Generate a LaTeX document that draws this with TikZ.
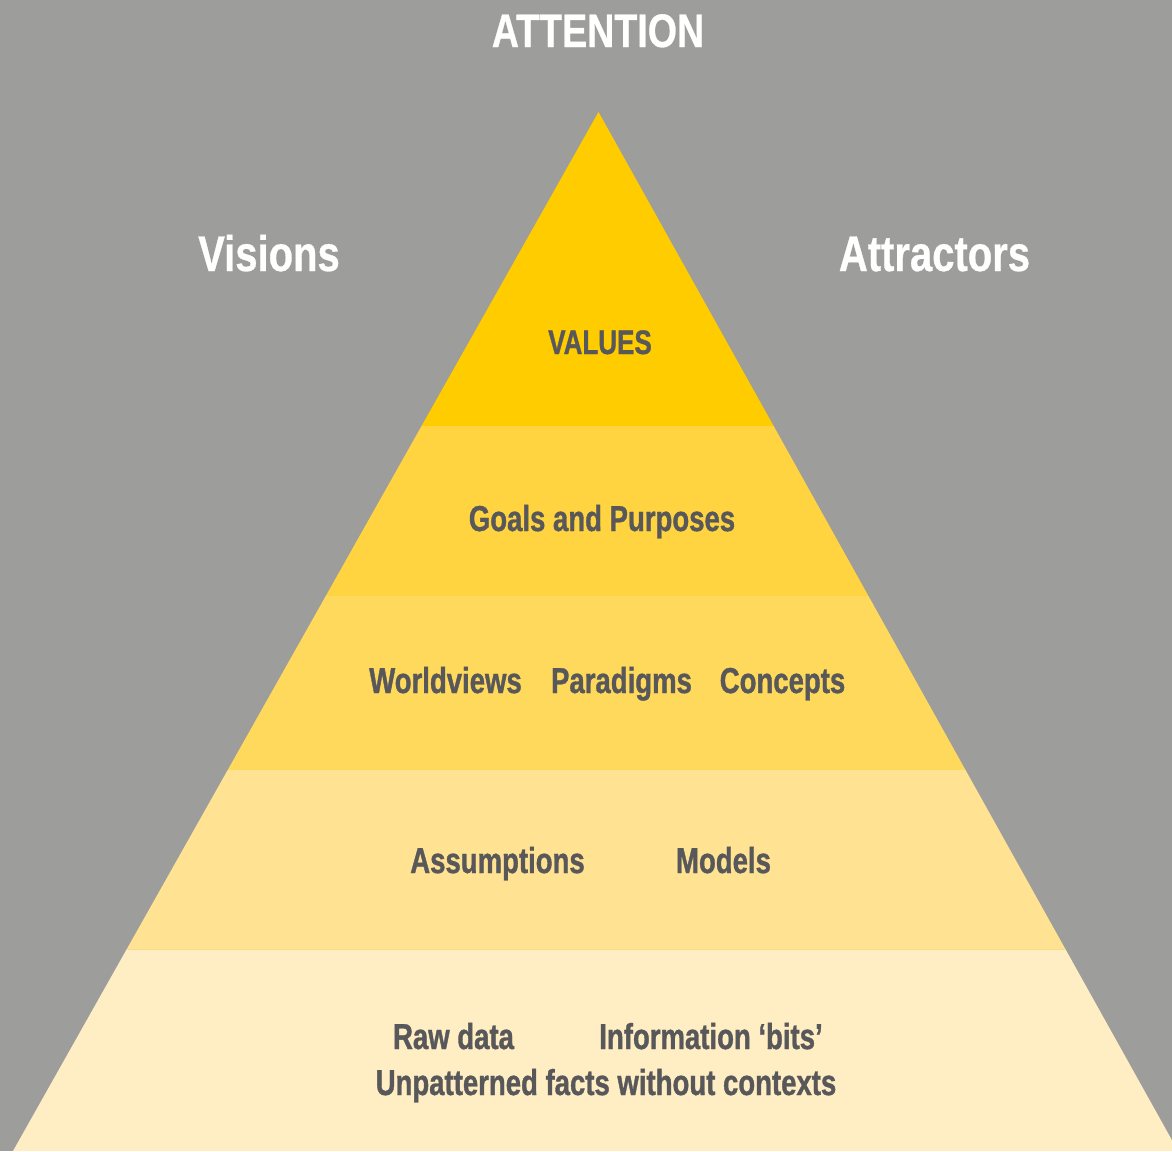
\documentclass[tikz,border=0pt]{standalone}
\usepackage{fontspec}
\setmainfont{Liberation Sans}[FakeStretch=0.8, BoldFeatures={FakeBold=0.6}]
\newfontfamily\innerfont{Liberation Sans}[FakeStretch=0.765, BoldFeatures={FakeBold=1}]
\definecolor{bg}{HTML}{9D9D9B}
\definecolor{lA}{HTML}{FFCC00}
\definecolor{lB}{HTML}{FFD440}
\definecolor{lC}{HTML}{FFD95C}
\definecolor{lD}{HTML}{FFE393}
\definecolor{lE}{HTML}{FFEEC4}
\definecolor{sep}{HTML}{F7DC8E}
\definecolor{txt}{HTML}{58585A}
\begin{document}
\begin{tikzpicture}[x=1pt,y=-1pt,
  lbl/.style={text=txt,font=\innerfont\bfseries\fontsize{36}{40}\selectfont,inner sep=0pt,anchor=base},
  head/.style={text=white,font=\bfseries\fontsize{47}{50}\selectfont,inner sep=0pt,anchor=base},
  side/.style={head,font=\bfseries\fontsize{50}{54}\selectfont}]
\fill[bg] (0,0) rectangle (1172,1151);
\useasboundingbox (0,0) rectangle (1172,1151);
\begin{scope}
  \clip (598.5,112) -- (13,1151) -- (1178,1151) -- cycle;
  \fill[lA] (0,100) rectangle (1172,426);
  \fill[lB] (0,426) rectangle (1172,596);
  \fill[lC] (0,596) rectangle (1172,770);
  \fill[lD] (0,770) rectangle (1172,949);
  \fill[lE] (0,949) rectangle (1172,1151);
  \draw[sep,line width=1pt] (0,949) -- (1172,949);
\end{scope}
\node[head] (attention) at (598,47) {ATTENTION};
\node[side] (visions) at (269,271) {Visions};
\node[side] (attractors) at (934.5,271) {Attractors};
\node[lbl,font=\innerfont\bfseries\fontsize{34}{38}\selectfont] (values) at (600,354) {VALUES};
\node[lbl] (goals) at (602,531) {Goals and Purposes};
\node[lbl] (worldviews) at (445.5,693) {Worldviews};
\node[lbl] (paradigms) at (621.5,693) {Paradigms};
\node[lbl] (concepts) at (782.5,693) {Concepts};
\node[lbl] (assumptions) at (497.5,873) {Assumptions};
\node[lbl] (models) at (723.5,873) {Models};
\node[lbl] (rawdata) at (453.5,1049) {Raw data};
\node[lbl] (info) at (711,1049) {Information ‘bits’};
\node[lbl] (facts) at (606,1095) {Unpatterned facts without contexts};
\end{tikzpicture}
\end{document}
